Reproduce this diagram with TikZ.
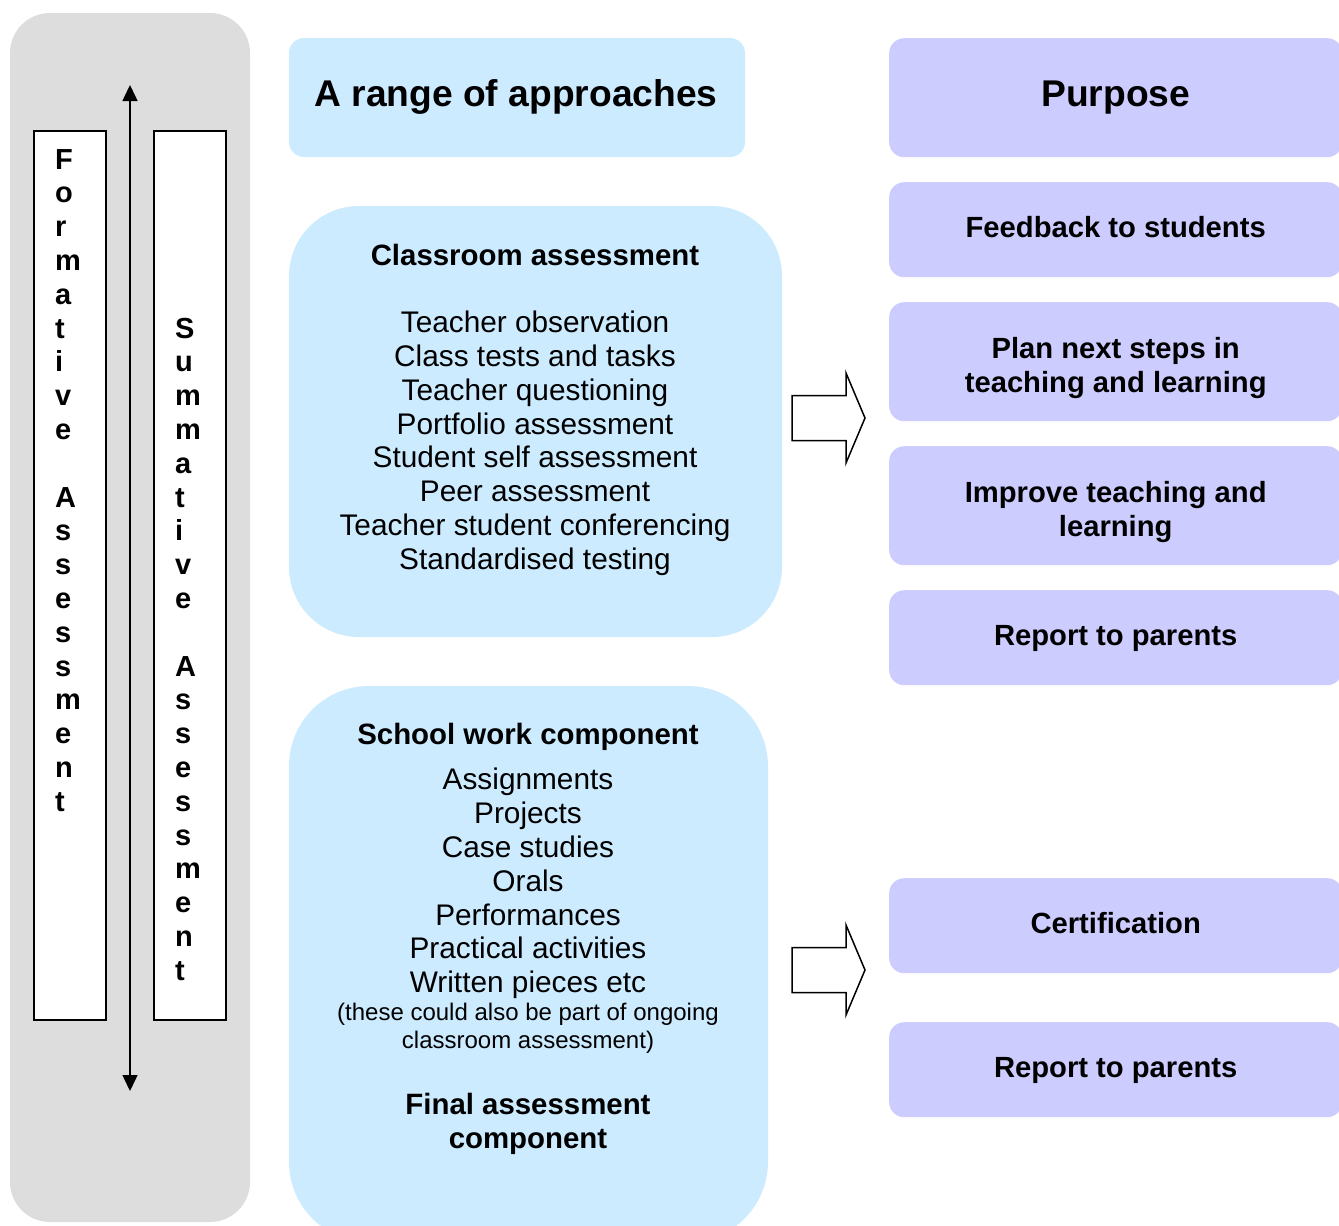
\documentclass[tikz,border=0pt]{standalone}
\usepackage{fontspec}
\setmainfont{Liberation Sans}
\usetikzlibrary{arrows.meta,positioning}

\definecolor{panelgrey}{HTML}{DDDDDD}
\definecolor{approachblue}{HTML}{CCEBFF}
\definecolor{purposeblue}{HTML}{CCCCFF}

\tikzset{
  approachbox/.style={fill=approachblue, draw=none, rounded corners=#1},
  purposebox/.style={fill=purposeblue, draw=none, rounded corners=15, anchor=north west,
    minimum width=453, minimum height=#1, inner sep=0},
  purposetext/.style={inner sep=0, align=center, font=\fontsize{29.2}{34}\selectfont\bfseries},
  stripbox/.style={fill=white, draw=black, line width=1.5},
  letter/.style={anchor=base west, inner sep=0, font=\fontsize{29}{34}\selectfont\bfseries},
  bodytext/.style={inner sep=0, align=center, font=\fontsize{29.8}{33.8}\selectfont},
  smalltext/.style={inner sep=0, align=center, font=\fontsize{24}{28}\selectfont},
  headtext/.style={inner sep=0, align=center, font=\fontsize{29.4}{34.3}\selectfont\bfseries},
  bigtitle/.style={inner sep=0, font=\fontsize{37.2}{40}\selectfont\bfseries},
  blockarrow/.style={draw=black, line width=1.5, fill=white, line join=miter},
}

\begin{document}
\begin{tikzpicture}[x=1pt,y=-1pt]

\clip (0,0) rectangle (1339,1226);

\newcommand\stripstep{33.8}

% left panel
\fill[panelgrey, rounded corners=40] (10,13) rectangle (250,1222);
\draw[stripbox] (34,131) coordinate (form0) rectangle (106,1020) coordinate (form1);
\draw[stripbox] (154,131) coordinate (summ0) rectangle (226,1020) coordinate (summ1);

\coordinate (scaletop) at (130,85);
\coordinate (scalebot) at (130,1091);
\draw[line width=1.5, {Triangle[width=15,length=16]}-{Triangle[width=15,length=16]}] (scaletop) -- (scalebot);

\foreach \ch [count=\i from 0] in {F,o,r,m,a,t,i,v,e,{},A,s,s,e,s,s,m,e,n,t}
  \node[letter] (fl\i) at (55,{169+\i*\stripstep}) {\ch};

\foreach \ch [count=\i from 0] in {S,u,m,m,a,t,i,v,e,{},A,s,s,e,s,s,m,e,n,t}
  \node[letter] (sl\i) at (175,{338+\i*\stripstep}) {\ch};

% approaches
\fill[approachbox=15] (289,38) rectangle (745,157);
\node[bigtitle] (approaches) at (516,97) {A range of approaches};

\fill[approachbox=70] (289,206) rectangle (782,637);
\node[headtext] (classhead) at (535,255) {Classroom assessment};
\node[bodytext, anchor=north] (classlist) at (535,311) {Teacher observation\\Class tests and tasks\\Teacher questioning\\Portfolio assessment\\Student self assessment\\Peer assessment\\Teacher student conferencing\\Standardised testing};

\fill[approachbox=80] (289,686) rectangle (768,1242);
\node[headtext] (schoolhead) at (528,737) {School work component};
\node[bodytext, anchor=north] (schoollist) at (528,768) {Assignments\\Projects\\Case studies\\Orals\\Performances\\Practical activities\\Written pieces etc};
\node[smalltext, anchor=north] (schoolnote) at (528,1003) {(these could also be part of ongoing\\classroom assessment)};
\node[headtext, anchor=north] (finalhead) at (528,1093) {Final assessment\\component};

% block arrows
\foreach \ay/\nm in {418/uparr, 970/lowarr} {
  \coordinate (\nm) at (792,\ay);
  \draw[blockarrow] (\nm) ++(0,-22.5) -- ++(54,0) -- ++(0,-22.5) -- ++(19,45) -- ++(-19,45)
    -- ++(0,-22.5) -- ++(-54,0) -- cycle;
}

% purpose
\node[purposebox=119] (purpose) at (889,38) {};
\node[bigtitle] (purposetxt) at (purpose.center) {Purpose};

\node[purposebox=95] (feedback) at (889,182) {};
\node[purposetext, yshift=3] (feedbacktxt) at (feedback.center) {Feedback to students};

\node[purposebox=119] (plannext) at (889,302) {};
\node[purposetext, yshift=-6] (plannexttxt) at (plannext.center) {Plan next steps in\\teaching and learning};

\node[purposebox=119] (improve) at (889,446) {};
\node[purposetext, yshift=-6] (improvetxt) at (improve.center) {Improve teaching and\\learning};

\node[purposebox=95] (reportA) at (889,590) {};
\node[purposetext, yshift=-1] (reportAtxt) at (reportA.center) {Report to parents};

\node[purposebox=95] (certify) at (889,878) {};
\node[purposetext, yshift=3] (certifytxt) at (certify.center) {Certification};

\node[purposebox=95] (reportB) at (889,1022) {};
\node[purposetext, yshift=-1] (reportBtxt) at (reportB.center) {Report to parents};

\end{tikzpicture}
\end{document}
